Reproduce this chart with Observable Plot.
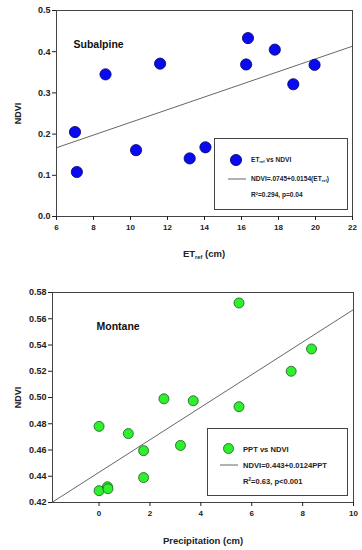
<!DOCTYPE html>
<html><head><meta charset="utf-8">
<script src="https://cdn.jsdelivr.net/npm/d3@7"></script>
<script src="https://cdn.jsdelivr.net/npm/@observablehq/plot@0.6"></script>
<style>
body{margin:0;background:#fff;font-family:"Liberation Sans",Arial,sans-serif;}
#wrap{position:relative;width:362px;height:550px;}
.pl{position:absolute;left:0;}
.lab{position:absolute;font-weight:bold;color:#222;white-space:nowrap;transform:translate(-50%,-50%);}
.lab sub{font-size:60%;vertical-align:-0.25em;}
.leg{position:absolute;border:1px solid #444;background:#fff;box-sizing:border-box;}
.leg .t{position:absolute;white-space:nowrap;color:#222;transform:translateY(-50%);}
.leg sub{font-size:60%;vertical-align:-0.25em;}
.leg sup{font-size:60%;vertical-align:0.5em;line-height:0;}
</style></head>
<body><div id="wrap"></div>
<script>
// Subalpine data
const subET   = [7.0, 7.1, 8.65, 10.3, 11.6, 13.2, 14.05, 16.25, 16.35, 17.8, 18.8, 19.95];
const subNDVI = [0.205, 0.108, 0.345, 0.161, 0.371, 0.141, 0.168, 0.369, 0.433, 0.405, 0.321, 0.368];
const subFit  = [0.0745, 0.0154];
const subXTicks = [6, 8, 10, 12, 14, 16, 18, 20, 22];
const subYTicks = [0.0, 0.1, 0.2, 0.3, 0.4, 0.5];

// Montane data
const monPPT  = [5.5, 8.35, 7.55, 2.55, 3.7, 5.5, 0.0, 1.15, 1.75, 3.2, 1.75, 0.0, 0.33, 0.35];
const monNDVI = [0.572, 0.537, 0.520, 0.499, 0.4975, 0.493, 0.478, 0.4725, 0.4595, 0.4635, 0.439, 0.429, 0.432, 0.4305];
const monFit  = [0.443, 0.0124];
const monXTicks = [0, 2, 4, 6, 8, 10];
const monYTicks = [0.42, 0.44, 0.46, 0.48, 0.50, 0.52, 0.54, 0.56, 0.58];

const wrap = document.getElementById("wrap");
const style = {fontFamily:"'Liberation Sans',Arial,sans-serif", fontSize:"8px", fontWeight:"bold", color:"#222", background:"transparent"};

function makePlot({xs, ys, fit, xDomain, yDomain, xTicks, yTicks, yFmt, fill, stroke, r, title, m, h, top, titleDx, titleDy}) {
  const pts = xs.map((x,i)=>({x, y: ys[i]}));
  const p = Plot.plot({
    width: 362, height: h,
    marginLeft: m[3], marginRight: m[1], marginTop: m[0], marginBottom: m[2],
    style,
    x: {domain: xDomain},
    y: {domain: yDomain},
    marks: [
      Plot.line(xDomain, {x: d=>d, y: d=>fit[0]+fit[1]*d, stroke:"#555", strokeWidth:0.9, clip:true}),
      Plot.frame({stroke:"#444", strokeWidth:1}),
      Plot.axisX({ticks: xTicks, tickSize:4, tickPadding:4, tickFormat: d3.format("d"), label:null, stroke:"#222"}),
      Plot.axisY({ticks: yTicks, tickSize:4, tickPadding:2, tickFormat: d3.format(yFmt), label:"NDVI", labelAnchor:"center", labelArrow:"none", labelOffset: m[3]-14, fontSize:9, stroke:"#222"}),
      Plot.dot(pts, {x:"x", y:"y", r, fill, stroke, strokeWidth:0.8}),
      Plot.text([title], {frameAnchor:"top-left", dx:titleDx, dy:titleDy, text:d=>d, fontSize:10.5, fontWeight:"bold", fill:"#111", textAnchor:"start"})
    ]
  });
  p.classList.add("pl");
  p.style.top = top + "px";
  wrap.appendChild(p);
}

makePlot({xs: subET, ys: subNDVI, fit: subFit, xDomain:[6,22], yDomain:[0,0.5], xTicks: subXTicks, yTicks: subYTicks, yFmt:".1f",
  fill:"#0a0af0", stroke:"#00006a", r:5.6, title:"Subalpine", m:[10,10,54,56], h:270, top:0, titleDx:17, titleDy:30});
makePlot({xs: monPPT, ys: monNDVI, fit: monFit, xDomain:[-1.83,10], yDomain:[0.42,0.58], xTicks: monXTicks, yTicks: monYTicks, yFmt:".2f",
  fill:"#2ef02e", stroke:"#1a5a1a", r:5.0, title:"Montane", m:[22,9,48,52], h:280, top:270, titleDx:44, titleDy:30});

// axis labels
function lab(html, x, y, fs){const d=document.createElement("div");d.className="lab";d.innerHTML=html;d.style.left=x+"px";d.style.top=y+"px";d.style.fontSize=fs+"px";wrap.appendChild(d);}
lab("ET<sub>ref</sub> (cm)", 204, 254, 9.5);
lab("Precipitation (cm)", 203, 540, 9.5);

// legends
function legend(box, rows, fs, fw, dot){
  const L=document.createElement("div");L.className="leg";
  Object.assign(L.style,{left:box[0]+"px",top:box[1]+"px",width:box[2]+"px",height:box[3]+"px"});
  L.innerHTML = `<svg width="${box[2]}" height="${box[3]}" style="position:absolute;left:0;top:0">
     <circle cx="${dot.cx}" cy="${dot.cy}" r="${dot.r}" fill="${dot.fill}" stroke="${dot.stroke}" stroke-width="0.8"/>
     <line x1="${dot.l1}" x2="${dot.l2}" y1="${dot.ly}" y2="${dot.ly}" stroke="#555" stroke-width="0.9"/></svg>`;
  rows.forEach(r=>{const t=document.createElement("div");t.className="t";t.innerHTML=r.html;
    Object.assign(t.style,{left:r.x+"px",top:r.y+"px",fontSize:fs+"px",fontWeight:fw});L.appendChild(t);});
  wrap.appendChild(L);
}
legend([214,138,134,72],[
  {html:"ET<sub>ref</sub> vs NDVI", x:36, y:21},
  {html:"NDVI=.0745+0.0154(ET<sub>ref</sub>)", x:36, y:40},
  {html:"R<sup>2</sup>=0.294, p=0.04", x:36, y:54.5}], 6.6, "bold",
  {cx:21, cy:21, r:5.6, fill:"#0a0af0", stroke:"#00006a", l1:13, l2:31, ly:40});
legend([207,428,141,68],[
  {html:"PPT vs NDVI", x:35, y:19.5},
  {html:"NDVI=0.443+0.0124PPT", x:35, y:36},
  {html:"R<sup>2</sup>=0.63, p&lt;0.001", x:35, y:52}], 7.6, "bold",
  {cx:20.5, cy:19.5, r:5.0, fill:"#2ef02e", stroke:"#1a5a1a", l1:12, l2:30, ly:36});
</script></body></html>
